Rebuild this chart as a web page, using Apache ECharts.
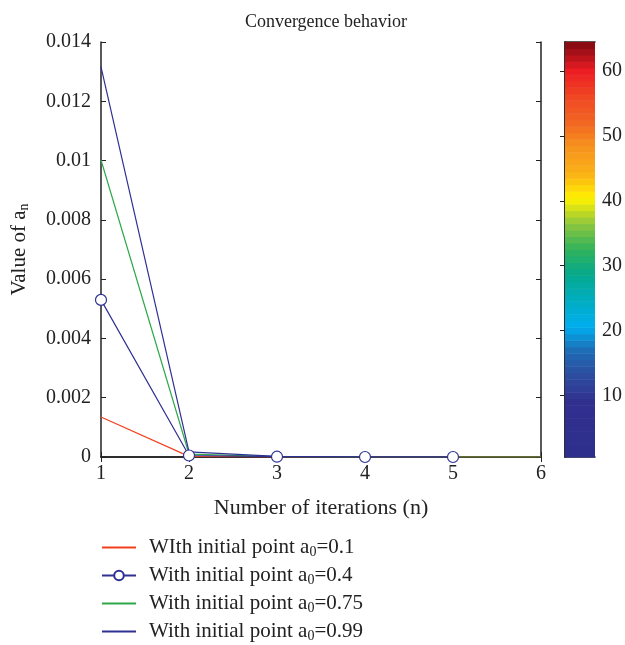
<!DOCTYPE html>
<html>
<head>
<meta charset="utf-8">
<script src="https://cdn.jsdelivr.net/npm/echarts@6/dist/echarts.min.js"></script>
<style>
  html, body { margin: 0; padding: 0; background: #fff; }
  #chart { width: 625px; height: 645px; }
</style>
</head>
<body>
<div id="chart"></div>
<script>
// iterations on the x axis
const iterations = [1, 2, 3, 4, 5, 6]
// a_n values, one list per starting point
const a01 = [0.00135, 0.00002, 0, 0, 0, 0]
const a04 = [0.0053, 0.00005, 0.00001, 0, 0]
const a075 = [0.01002, 0.0001, 0.00001, 0, 0, 0]
const a099 = [0.01316, 0.00017, 0.00002, 0, 0]
const legendPrefix = ['WIth initial point a', 'With initial point a', 'With initial point a', 'With initial point a']
const legendValues = ['0.1', '0.4', '0.75', '0.99']
// colour bar levels and tick labels
const colorLevels = [1, 2, 3, 4, 5, 6, 7, 8, 9, 10, 11, 12, 13, 14, 15, 16, 17, 18, 19, 20, 21, 22, 23, 24, 25, 26, 27, 28, 29, 30, 31, 32,
  33, 34, 35, 36, 37, 38, 39, 40, 41, 42, 43, 44, 45, 46, 47, 48, 49, 50, 51, 52, 53, 54, 55, 56, 57, 58, 59, 60, 61, 62, 63, 64]
const colorTicks = [10, 20, 30, 40, 50, 60]

const font = 'Liberation Serif'
const ink = '#222'
const seriesNames = legendValues.map((v, i) => legendPrefix[i] + '0=' + v)

const chart = echarts.init(document.getElementById('chart'))

function pairs(values) {
  return values.map((v, i) => [iterations[i], v])
}

const frameAxis = {
  axisLine: { show: true, lineStyle: { color: ink, width: 1.5 } },
  axisTick: { show: true, inside: true, length: 5, lineStyle: { color: ink } },
  axisLabel: { show: false },
  splitLine: { show: false }
}

const subRich = {
  t: { fontFamily: font, fontSize: 21, color: ink },
  s: { fontFamily: font, fontSize: 14, color: ink, padding: [10, 0, 0, 0] },
  g: { width: 8 }
}

chart.setOption({
  animation: false,
  textStyle: { fontFamily: font },
  title: {
    text: 'Convergence behavior',
    left: 321,
    textAlign: 'center',
    top: 8,
    textStyle: { fontFamily: font, fontSize: 18, fontWeight: 'normal', color: ink }
  },
  grid: [
    { left: 101, right: 84, top: 42, bottom: 188 },
    { left: 565, right: 27, top: 42, bottom: 188 }
  ],
  xAxis: [
    {
      gridIndex: 0, type: 'value', min: 1, max: 6, interval: 1,
      name: 'Number of iterations (n)', nameLocation: 'middle', nameGap: 40,
      nameTextStyle: { fontFamily: font, fontSize: 22, color: ink },
      axisLine: { show: true, onZero: false, lineStyle: { color: ink, width: 1.5 } },
      axisTick: { inside: true, length: 5, lineStyle: { color: ink } },
      axisLabel: { fontFamily: font, fontSize: 20, color: ink, margin: 7 },
      splitLine: { show: false }
    },
    Object.assign({ gridIndex: 0, type: 'value', position: 'top', min: 1, max: 6, interval: 1 }, frameAxis),
    Object.assign({ gridIndex: 1, type: 'value', min: 0, max: 1 }, frameAxis, { axisTick: { show: false } }),
    Object.assign({ gridIndex: 1, type: 'value', position: 'top', min: 0, max: 1 }, frameAxis, { axisTick: { show: false } })
  ],
  yAxis: [
    {
      gridIndex: 0, type: 'value', min: 0, max: 0.014, interval: 0.002,
      name: '{t|Value of a}{s|n}', nameLocation: 'middle', nameGap: 70, nameRotate: 90,
      nameTextStyle: { color: ink, rich: subRich },
      axisLine: { show: true, onZero: false, lineStyle: { color: ink, width: 1.5 } },
      axisTick: { inside: true, length: 5, lineStyle: { color: ink } },
      axisLabel: { fontFamily: font, fontSize: 20, color: ink, margin: 10,
        formatter: v => String(+v.toFixed(3)) },
      splitLine: { show: false }
    },
    Object.assign({ gridIndex: 0, type: 'value', position: 'right', min: 0, max: 0.014, interval: 0.002 }, frameAxis),
    {
      gridIndex: 1, type: 'value', position: 'right', min: 0.5, max: 64.5,
      axisLine: { show: true, lineStyle: { color: ink, width: 1.5 } },
      axisTick: { show: true, inside: true, length: 5, customValues: colorTicks, lineStyle: { color: ink } },
      axisLabel: { show: true, customValues: colorTicks, fontFamily: font, fontSize: 20, color: ink, margin: 7 },
      splitLine: { show: false }
    },
    Object.assign({ gridIndex: 1, type: 'value', position: 'left', min: 0.5, max: 64.5 }, frameAxis, {
      axisTick: { show: true, inside: true, length: 5, customValues: colorTicks, lineStyle: { color: ink } }
    })
  ],
  legend: {
    orient: 'vertical',
    left: 101,
    top: 537,
    padding: 0,
    itemWidth: 34,
    itemHeight: 12,
    itemGap: 5.5,
    data: seriesNames,
    formatter: name => {
      const i = seriesNames.indexOf(name)
      return '{g|}{t|' + legendPrefix[i] + '}{s|0}{t|=' + legendValues[i] + '}'
    },
    textStyle: { rich: subRich }
  },
  visualMap: {
    show: false,
    type: 'continuous',
    seriesIndex: 4,
    dimension: 1,
    min: 1,
    max: 64,
    inRange: {
      color: ['#2e2f8c', '#2f2f8e', '#312f8f', '#2e4a9e', '#1f6ab3', '#00aeef', '#00adc2', '#05a98f',
        '#2fb25a', '#8cc63f', '#fff200', '#fbb017', '#f7941d', '#f26522', '#ef4723', '#ed1c24', '#8b0c13']
    }
  },
  series: [
    {
      name: seriesNames[0], type: 'line', xAxisIndex: 0, yAxisIndex: 0,
      data: pairs(a01), symbol: 'none',
      lineStyle: { color: '#f2401e', width: 1.2 }, itemStyle: { color: 'rgba(0,0,0,0)' }
    },
    {
      name: seriesNames[2], type: 'line', xAxisIndex: 0, yAxisIndex: 0,
      data: pairs(a075), symbol: 'none',
      lineStyle: { color: '#2fa84a', width: 1.2 }, itemStyle: { color: 'rgba(0,0,0,0)' }
    },
    {
      name: seriesNames[1], type: 'line', xAxisIndex: 0, yAxisIndex: 0,
      data: pairs(a04), symbol: 'circle', symbolSize: 11, showAllSymbol: true,
      lineStyle: { color: '#2e3192', width: 1.2 },
      itemStyle: { color: '#fff', borderColor: '#2e3192', borderWidth: 1.2 }
    },
    {
      name: seriesNames[3], type: 'line', xAxisIndex: 0, yAxisIndex: 0,
      data: pairs(a099), symbol: 'none',
      lineStyle: { color: '#2e3192', width: 1.2 }, itemStyle: { color: 'rgba(0,0,0,0)' }
    },
    {
      type: 'custom', xAxisIndex: 2, yAxisIndex: 2,
      data: colorLevels.map(v => [0, v]),
      encode: { x: 0, y: 1 },
      renderItem: (params, api) => {
        const v = api.value(1)
        const p0 = api.coord([0, v - 0.5])
        const p1 = api.coord([1, v + 0.5])
        return {
          type: 'rect',
          shape: { x: p0[0], y: p1[1], width: p1[0] - p0[0], height: p0[1] - p1[1] + 0.5 },
          style: { fill: api.visual('color') }
        }
      },
      z: 1
    }
  ]
})
</script>
</body>
</html>
